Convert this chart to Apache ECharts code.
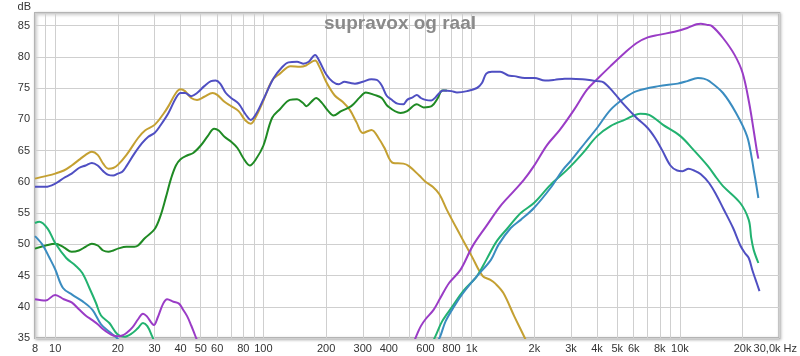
<!DOCTYPE html>
<html>
<head>
<meta charset="utf-8">
<script src="https://cdn.jsdelivr.net/npm/echarts@6/dist/echarts.min.js"></script>
<style>
html,body{margin:0;padding:0;background:#fff;}
#c{width:800px;height:356px;}
</style>
</head>
<body>
<div id="c"></div>
<script>
// ---- data: [frequency Hz, level dB] ----
var titleText = 'supravox og raal';
var yTicks = [35, 40, 45, 50, 55, 60, 65, 70, 75, 80, 85];
var xGridValues = [8,9,10,20,30,40,50,60,70,80,90,100,200,300,400,500,600,700,800,900,1000,2000,3000,4000,5000,6000,7000,8000,9000,10000,20000,30000];
var xLabelValues = [8,10,20,30,40,50,60,80,100,200,300,400,600,800,1000,2000,3000,4000,5000,6000,8000,10000,20000,30000];

var goldWoofer = [[8,60.5],[9,60.9],[10,61.3],[11,61.8],[12,62.6],[13,63.5],[14,64.3],[15,64.8],[16,64.3],[17,62.9],[18,62.1],[19,62.2],[20,62.7],[22,64.3],[25,67],[27,68.2],[30,69.1],[33,70.8],[35,72.1],[38,74.2],[40,74.8],[42,74.5],[45,73.4],[48,73.1],[52,73.6],[57,74.2],[60,73.9],[65,72.8],[70,72.1],[76,71.3],[82,69.8],[87,69.3],[92,70.4],[100,73],[110,76.2],[120,77.3],[135,78.5],[150,78.4],[160,78.6],[177,79.4],[185,78.5],[200,76],[220,73.8],[240,72.8],[260,71.5],[280,69.5],[300,67.8],[330,68.3],[360,66.8],[380,65.5],[420,63],[470,62.9],[500,62.5],[560,61],[600,60],[650,59.2],[700,58],[760,55.5],[880,51.5],[1000,48.1],[1130,44.9],[1230,44.3],[1300,43.7],[1420,42.2],[1600,38.5],[1800,35],[1850,34]];

var darkGreenWoofer = [[8,49.3],[9,49.8],[10,50.1],[11,49.5],[12,48.8],[13,49],[14,49.6],[15,50.1],[16,49.8],[17,49],[18,48.8],[19,49],[20,49.3],[22,49.6],[24,49.6],[25,49.8],[27,51],[30,52.4],[32,54.5],[34,57.5],[36,60.5],[38,62.6],[40,63.6],[43,64.2],[46,64.6],[50,65.8],[54,67.3],[58,68.5],[61,68.2],[65,67.2],[70,66.4],[75,65.4],[80,63.8],[86,62.6],[92,63.6],[100,65.8],[110,70.2],[120,71.6],[134,73.1],[145,73.2],[155,72.6],[161,72.1],[170,72.8],[179,73.4],[190,72.7],[205,71.3],[217,70.6],[236,71.3],[264,72.1],[290,73.5],[310,74.3],[341,73.9],[370,73.4],[395,72.1],[455,71],[490,71.3],[545,72.4],[588,71.9],[642,72.1],[688,73.4],[722,74.6],[760,74.6]];

var greenLow = [[8,53.4],[8.4,53.6],[9.2,52.5],[10,50.2],[11.3,47.8],[12.5,46.6],[13.5,45.4],[14.6,43],[15.7,40.6],[16.6,38.6],[18.2,37.4],[19.9,35.6],[21.5,35.2],[23.5,35.8],[25,36.6],[26.4,37.4],[27.7,36.9],[29.2,35.3],[30,34.3]];
var greenHigh = [[655,34.6],[670,35.3],[722,37.7],[810,40.1],[910,42.5],[1060,44.9],[1175,47.5],[1320,50.5],[1490,52.6],[1720,55],[1990,56.6],[2390,59.5],[2870,61.9],[3400,64.5],[4000,67.3],[4640,68.9],[5420,69.9],[6460,70.9],[7120,70.7],[8300,69.1],[10050,67.3],[11620,65.1],[13630,62.5],[15000,60.6],[16100,59.3],[19480,56.6],[21400,53.9],[22000,51],[22600,49.1],[23800,47]];

var tealLow = [[8,51.3],[8.7,49.9],[9.4,47.8],[10,46],[10.9,43],[12.1,41.9],[13.5,40.9],[15.1,39.5],[16.6,37.2],[18.2,36],[19.5,35.2],[20.5,34.5]];
var tealHigh = [[690,34.6],[707,35.3],[750,37.7],[825,40.1],[910,42.2],[1060,44.9],[1237,47.5],[1344,49.9],[1540,52.6],[1720,53.9],[1990,55.8],[2390,59],[2740,61.9],[3000,63.4],[3500,66.2],[4000,68.6],[4640,71.5],[5420,73.4],[6200,74.5],[7900,75.3],[9750,75.7],[10850,76.1],[12200,76.6],[13000,76.5],[13840,76.1],[16100,74.2],[18600,71],[21000,67.3],[22200,63.5],[22600,61.9],[23180,59.8],[23800,57.4]];

var purpleLow = [[8,41.2],[9,41],[10,41.9],[11,41.2],[12,40.7],[13,39.6],[14,38.6],[15,37.9],[16,37.2],[17,36.4],[18,35.8],[19,35.4],[20,35.3],[21,35.4],[22,35.8],[23.5,36.7],[25,38],[26.4,38.9],[27.5,38.5],[29.8,37.1],[31,38.2],[33,40.5],[34.5,41.2],[37,40.8],[39.3,40.5],[41,39.6],[43,38.5],[45,37],[47,35.4],[48.5,34.3]];
var purpleHigh = [[530,34.5],[545,35.5],[570,36.9],[600,38],[656,39.5],[707,41.4],[779,43.8],[883,45.9],[1010,49.7],[1175,52.9],[1373,56.1],[1594,58.5],[1780,60.3],[1988,62.5],[2305,65.9],[2650,68.3],[3100,71.5],[3573,74.7],[4000,76.4],[4640,78.5],[5420,80.6],[6200,82.2],[7000,83.1],[7900,83.5],[9420,84],[10850,84.6],[12000,85.2],[12600,85.3],[13500,85.1],[14250,84.9],[16100,83],[18300,80.3],[20000,77.4],[21500,72.6],[22700,67.8],[23400,65],[23800,63.7]];

var blueSum = [[8,59.2],[9,59.2],[10,59.7],[11,60.6],[12,61.3],[13,62.2],[14,62.6],[15,63],[16,62.6],[17,61.7],[18,61.1],[19,61],[20,61.3],[21,61.6],[22,62.5],[24,64.5],[26,66.1],[28,67.2],[30,67.8],[32,69],[35,71],[38,73.4],[40,74.2],[42,74.2],[45,73.7],[48,74.2],[52,75.3],[56,76.1],[59,76.2],[62,75.7],[66,74.2],[70,73.4],[76,72.5],[82,70.8],[87,69.9],[92,70.8],[100,73.2],[112,76.6],[122,78.2],[132,79.1],[145,79.2],[155,78.9],[165,79.2],[177,80.3],[185,79.4],[200,77.2],[215,76],[230,75.6],[245,76],[262,75.8],[275,75.7],[300,76],[330,76.4],[350,76.3],[370,75.4],[390,73.8],[410,73.2],[440,72.5],[470,72.4],[490,73.1],[520,73.5],[545,73.9],[570,73.4],[600,73.1],[640,73],[670,73.5],[700,74.2],[730,74.6],[800,74.5],[850,74.3],[950,74.5],[1060,75],[1120,75.8],[1175,77.3],[1250,77.6],[1370,77.6],[1500,77],[1600,76.9],[1800,76.6],[2000,76.6],[2250,76.2],[2500,76.3],[2800,76.5],[3000,76.5],[3400,76.4],[3800,76.2],[4000,76.1],[4300,75.9],[4800,74.3],[5400,72.3],[6200,70.2],[7000,68.6],[7600,67],[8200,65.1],[9000,62.6],[9700,61.8],[10300,61.7],[11000,62.1],[11700,61.8],[12600,61.2],[13800,59.8],[15000,57.8],[16100,55.8],[18000,52.6],[19500,49.8],[20500,48.6],[21400,47.8],[22300,45.8],[23100,44.3],[24100,42.5]];

// ---- chart ----
var FONT = 'Liberation Sans, Arial, sans-serif';
function mk(name, data, color, width) {
  return {
    name: name, type: 'line', data: data, showSymbol: false, smooth: 0.35,
    clip: true, animation: false,
    lineStyle: { color: color, width: width || 2 }, itemStyle: { color: color }
  };
}
var chart = echarts.init(document.getElementById('c'), null, { renderer: 'canvas' });
chart.setOption({
  backgroundColor: '#ffffff',
  animation: false,
  title: {
    text: titleText, left: 'center', top: 9,
    textStyle: { color: '#8a8a8a', fontSize: 19, fontWeight: 'bold', fontFamily: FONT }
  },
  grid: {
    left: 35, right: 17, top: 13, bottom: 18, show: true,
    borderColor: '#b4b4b4', borderWidth: 2, backgroundColor: '#ffffff',
    shadowColor: 'rgba(0,0,0,0.25)', shadowBlur: 3, shadowOffsetX: 1, shadowOffsetY: 1
  },
  xAxis: {
    type: 'log', logBase: 10, min: 8, max: 30000,
    axisLine: { show: false },
    axisTick: { show: false, customValues: xGridValues },
    splitLine: { show: true, lineStyle: { color: '#cfcfcf', width: 1 } },
    axisLabel: {
      customValues: xLabelValues, margin: 5, color: '#333', fontSize: 11, fontFamily: FONT,
      showMinLabel: true, showMaxLabel: true, hideOverlap: false,
      formatter: function (v) {
        if (Math.abs(v - 30000) < 1) return '{e|30,0k Hz}';
        if (v >= 1000) return Math.round(v / 1000) + 'k';
        return String(Math.round(v));
      },
      rich: { e: { fontSize: 11, color: '#333', fontFamily: FONT, padding: [0, 8, 0, 0] } }
    }
  },
  yAxis: {
    type: 'value', min: 35, max: 87, interval: 5,
    name: 'dB', nameLocation: 'end', nameGap: 1,
    nameTextStyle: { color: '#333', fontSize: 11, fontFamily: FONT, align: 'right', verticalAlign: 'bottom', padding: [0, 4, 0, 0] },
    axisLine: { show: false }, axisTick: { show: false },
    splitLine: { show: true, lineStyle: { color: '#cfcfcf', width: 1 } },
    axisLabel: {
      margin: 5, color: '#333', fontSize: 11, fontFamily: FONT,
      formatter: function (v) { return yTicks.indexOf(v) >= 0 ? String(v) : ''; }
    }
  },
  series: [
    mk('gold', goldWoofer, '#c4a032'),
    mk('darkgreen', darkGreenWoofer, '#1f8a24'),
    mk('greenLow', greenLow, '#22b270'),
    mk('greenHigh', greenHigh, '#22b270'),
    mk('tealLow', tealLow, '#3a8cc0'),
    mk('tealHigh', tealHigh, '#3a8cc0'),
    mk('purpleLow', purpleLow, '#9a3cc6'),
    mk('purpleHigh', purpleHigh, '#9a3cc6'),
    mk('blue', blueSum, '#4f4fc2')
  ]
});
</script>
</body>
</html>
